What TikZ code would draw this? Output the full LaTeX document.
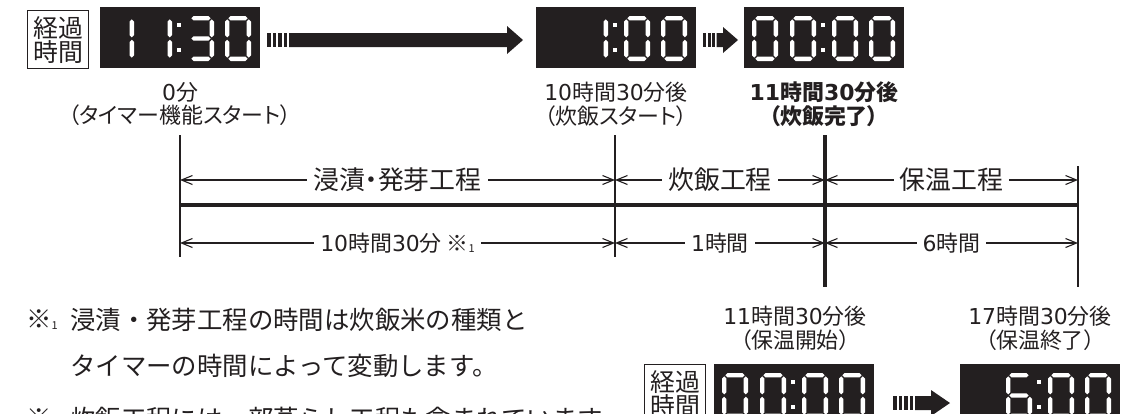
\documentclass[tikz,border=0pt]{standalone}
\usepackage{fontspec}
\setmainfont{Noto Sans CJK JP}[RawFeature=+palt]
\newfontfamily\plainfont{Noto Sans CJK JP}
\newfontfamily\digfont{DejaVu Sans}
\usetikzlibrary{arrows.meta}
\definecolor{ink}{HTML}{231F20}

% seven-segment pieces (local units: bp, y downwards)
\newcommand\lcdh[3]{\fill[white] (#1,#3) -- (#1+2.2,#3-2.2) -- (#2-2.2,#3-2.2) -- (#2,#3) -- (#2-2.2,#3+2.2) -- (#1+2.2,#3+2.2) -- cycle;}
\newcommand\lcdv[3]{\fill[white] (#1,#2) -- (#1+2.2,#2+2.2) -- (#1+2.2,#3-2.2) -- (#1,#3) -- (#1-2.2,#3-2.2) -- (#1-2.2,#2+2.2) -- cycle;}
\def\lcdsega{\lcdh{3.4}{22.6}{2.2}}
\def\lcdsegb{\lcdv{23.8}{3.4}{21.3}}
\def\lcdsegc{\lcdv{23.8}{23.7}{41.6}}
\def\lcdsegd{\lcdh{3.4}{22.6}{42.8}}
\def\lcdsege{\lcdv{2.2}{23.7}{41.6}}
\def\lcdsegf{\lcdv{2.2}{3.4}{21.3}}
\def\lcdsegg{\lcdh{3.4}{22.6}{22.5}}
\let\lcdsegz\relax

\tikzset{
  digit/.pic={\foreach \s in {#1}{\csname lcdseg\s\endcsname}},
  lcdbox/.style={fill=ink, draw=none, minimum width=160bp, minimum height=61bp, inner sep=0pt, anchor=north west},
  keika/.style={draw=ink, line width=1.2bp, minimum width=61bp, minimum height=58bp, inner sep=0pt, anchor=north west,
    align=center, text=ink, font=\fontsize{25}{24}\selectfont},
  lab/.style={text=ink, align=center, inner sep=0pt, font=\fontsize{22}{24}\selectfont},
  boldlab/.style={lab, font=\fontsize{22}{24}\selectfont\bfseries},
  dim/.style={draw=ink, line width=1.1bp, {Straight Barb[length=11bp,width=9bp]}-{Straight Barb[length=11bp,width=9bp]}},
  dimlab/.style={fill=white, text=ink, inner xsep=6bp, inner ysep=1bp},
  bigdim/.style={dimlab, font=\fontsize{26}{26}\selectfont},
  smalldim/.style={dimlab, font=\fontsize{22}{22}\selectfont},
  thinv/.style={draw=ink, line width=2bp},
  thickv/.style={draw=ink, line width=4.2bp},
  note/.style={text=ink, anchor=west, inner sep=0pt, font=\plainfont\fontsize{25.5}{26}\selectfont},
}

\newcommand\lcd[7]{%
  \node[lcdbox] (#1) at (#2,#3) {};
  \begin{scope}[shift={(#1.north west)}]
    \pic at (8,9) {digit={#4}};
    \pic at (46,9) {digit={#5}};
    \fill[white] (76.5,16) rectangle (80.5,20);
    \fill[white] (76.5,41) rectangle (80.5,45);
    \pic at (88,9) {digit={#6}};
    \pic at (125,9) {digit={#7}};
  \end{scope}}

\newcommand\sub[1]{\raisebox{-1bp}{\fontsize{11}{11}\selectfont #1}}
\newcommand\nd[1]{{\digfont #1}}

\begin{document}
\begin{tikzpicture}[x=1bp,y=-1bp]
\useasboundingbox (0,0) rectangle (1133,413);
\clip (0,0) rectangle (1133,413);

% ---------- top row ----------
\node[keika] (k1) at (27,10) {経過\\時間};
\lcd{d1}{100}{7}{b,c}{b,c}{a,b,c,d,g}{a,b,c,d,e,f}
\lcd{d2}{536}{7}{z}{b,c}{a,b,c,d,e,f}{a,b,c,d,e,f}
\lcd{d3}{744}{7}{a,b,c,d,e,f}{a,b,c,d,e,f}{a,b,c,d,e,f}{a,b,c,d,e,f}

% long striped arrow
\foreach \x in {267,272.5,278,283.5} \fill[ink] (\x,33) rectangle +(3.5,14);
\fill[ink] (289,33) -- (507,33) -- (507,26) -- (523,40) -- (507,54) -- (507,47) -- (289,47) -- cycle;
% short striped arrow
\foreach \x in {703,707.5,712} \fill[ink] (\x,33) rectangle +(3,14);
\fill[ink] (716.5,33) -- (723,33) -- (723,27) -- (738,40) -- (723,53) -- (723,47) -- (716.5,47) -- cycle;

\node[lab] (l0) at (180,104) {\nd{0}分\\（タイマー機能スタート）};
\node[lab] (l1) at (616,104) {\nd{10}時間\nd{30}分後\\（炊飯スタート）};
\node[boldlab] (l2) at (824,104) {\nd{11}時間\nd{30}分後\\（炊飯完了）};

% ---------- time line ----------
\coordinate (v0t) at (180,135); \coordinate (v0b) at (180,257);
\coordinate (v1t) at (615,135); \coordinate (v1b) at (615,257);
\coordinate (v2t) at (825,135); \coordinate (v2b) at (825,287);
\coordinate (v3t) at (1078,166); \coordinate (v3b) at (1078,287);

\coordinate (a0) at (180,180); \coordinate (a1) at (615,180);
\coordinate (a2) at (825,180); \coordinate (a3) at (1078,180);
\coordinate (c0) at (180,243); \coordinate (c1) at (615,243);
\coordinate (c2) at (825,243); \coordinate (c3) at (1078,243);
\coordinate (m0) at (180,205); \coordinate (m3) at (1078,205);

\draw[dim] (a0) -- node[bigdim] (s1) {浸漬・発芽工程} (a1);
\draw[dim] (a1) -- node[bigdim] (s2) {炊飯工程} (a2);
\draw[dim] (a2) -- node[bigdim] (s3) {保温工程} (a3);
\draw[dim] (c0) -- node[smalldim] (t1) {\nd{10}時間\nd{30}分 ※\sub{1}} (c1);
\draw[dim] (c1) -- node[smalldim] (t2) {\nd{1}時間} (c2);
\draw[dim] (c2) -- node[smalldim] (t3) {\nd{6}時間} (c3);

\draw[draw=ink, line width=4.2bp] (m0) -- (m3);
\draw[thinv] (v0t) -- (v0b);
\draw[thinv] (v1t) -- (v1b);
\draw[thickv] (v2t) -- (v2b);
\draw[thinv] (v3t) -- (v3b);

% ---------- bottom right ----------
\node[lab] (l3) at (795,328) {\nd{11}時間\nd{30}分後\\（保温開始）};
\node[lab] (l4) at (1040,328) {\nd{17}時間\nd{30}分後\\（保温終了）};
\node[keika] (k2) at (644,364) {経過\\時間};
\lcd{d4}{714}{364}{a,b,c,d,e,f}{a,b,c,d,e,f}{a,b,c,d,e,f}{a,b,c,d,e,f}
\lcd{d5}{960}{364}{z}{a,c,d,e,f,g}{a,b,c,d,e,f}{a,b,c,d,e,f}
\foreach \x in {893,898.5,904,909.5} \fill[ink] (\x,396) rectangle +(3.5,14);
\fill[ink] (915,396) -- (931,396) -- (931,390) -- (950,403) -- (931,416) -- (931,410) -- (915,410) -- cycle;

% ---------- notes ----------
\node[note] (n1m) at (26,320) {※\sub{1}};
\node[note] (n1) at (70,320) {浸漬・発芽工程の時間は炊飯米の種類と};
\node[note] (n2) at (70,366) {タイマーの時間によって変動します。};
\node[note] (n3m) at (26,419) {※\sub{2}};
\node[note] (n3) at (70,419) {炊飯工程には一部蒸らし工程も含まれています。};
\end{tikzpicture}
\end{document}
